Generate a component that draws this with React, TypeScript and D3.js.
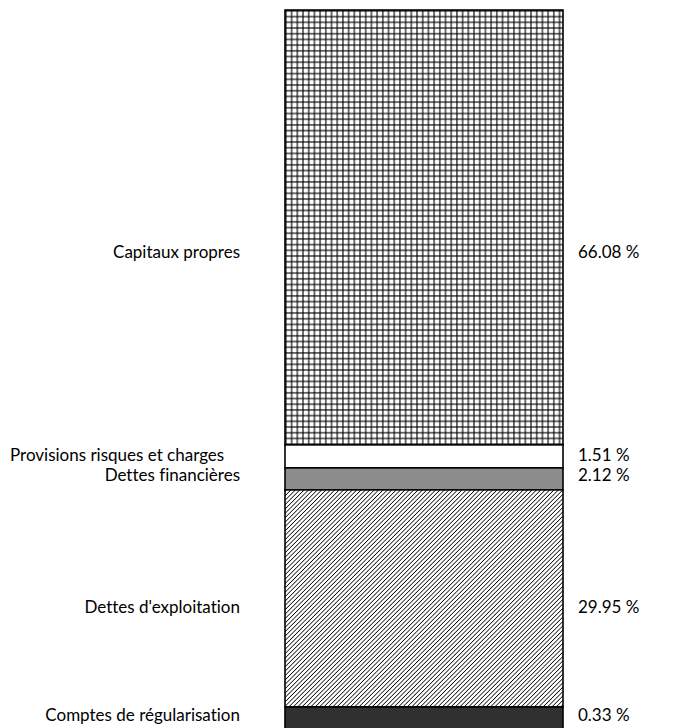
import React from "react";
import * as d3 from "d3";

// Categories (top to bottom)
const categories = [
  "Capitaux propres",
  "Provisions risques et charges",
  "Dettes financières",
  "Dettes d'exploitation",
  "Comptes de régularisation",
];
// Percent values shown as labels
const percents = [66.08, 1.51, 2.12, 29.95, 0.33];
// Segment sizes as drawn in the picture (share of the bar, small items given a minimum size)
const drawnShares = [60.4, 3.2, 3.05, 30.15, 3.2];
// Fill styles per segment
const fills = ["url(#grid)", "#ffffff", "#8c8c8c", "url(#hatch)", "#303030"];
// Per-label vertical nudges (px) relative to segment centre
const labelNudge = [24, -2, -4, 8, -4];

const W = 674;
const H = 728;

export default function App() {
  const x = d3.scaleBand<string>().domain(["Passif"]).range([285, 563]).padding(0);
  const y = d3.scaleLinear().domain([0, 100]).range([10, 730]);

  const stackData = [
    Object.fromEntries(categories.map((c, i) => [c, drawnShares[i]])),
  ];
  const series = d3.stack<any>().keys(categories)(stackData);

  const x0 = x("Passif")!;
  const bw = x.bandwidth();
  const font = "Lato, 'Open Sans', sans-serif";
  const textStyle = { fontVariantLigatures: "none" as const };

  return (
    <svg
      width={W}
      height={H}
      style={{ position: "absolute", left: 0, top: 0, background: "#fff" }}
    >
      <defs>
        <pattern id="grid" patternUnits="userSpaceOnUse" x={285} y={10} width={5.7} height={5.7}>
          <rect width={5.7} height={5.7} fill="#fff" />
          <rect x={0} y={0} width={1.8} height={5.7} fill="#000" fillOpacity={0.62} />
          <rect x={0} y={0} width={5.7} height={1.8} fill="#000" fillOpacity={0.62} />
        </pattern>
        <pattern
          id="hatch"
          patternUnits="userSpaceOnUse"
          width={3.1}
          height={3.1}
          patternTransform="rotate(-45)"
        >
          <rect width={3.1} height={3.1} fill="#fff" />
          <rect x={0} y={0} width={3.1} height={0.75} fill="#000" />
        </pattern>
      </defs>
      {series.map((s, i) => {
        const d = s[0];
        const top = y(d[0]);
        const bottom = y(d[1]);
        const cy = (top + bottom) / 2 + labelNudge[i];
        const leftAnchorStart = i === 1;
        return (
          <g key={categories[i]}>
            <rect
              x={x0}
              y={top}
              width={bw}
              height={bottom - top}
              fill={fills[i]}
              stroke="#000"
              strokeWidth={1.6}
            />
            <text
              x={leftAnchorStart ? 10 : 240}
              y={cy}
              textAnchor={leftAnchorStart ? "start" : "end"}
              dominantBaseline="central"
              fontFamily={font}
              fontSize={17}
              fill="#000"
              style={textStyle}
            >
              {categories[i]}
            </text>
            <text
              x={578}
              y={cy}
              textAnchor="start"
              dominantBaseline="central"
              fontFamily={font}
              fontSize={17}
              fill="#000"
              style={textStyle}
            >
              {d3.format(".2f")(percents[i]) + " %"}
            </text>
          </g>
        );
      })}
    </svg>
  );
}
